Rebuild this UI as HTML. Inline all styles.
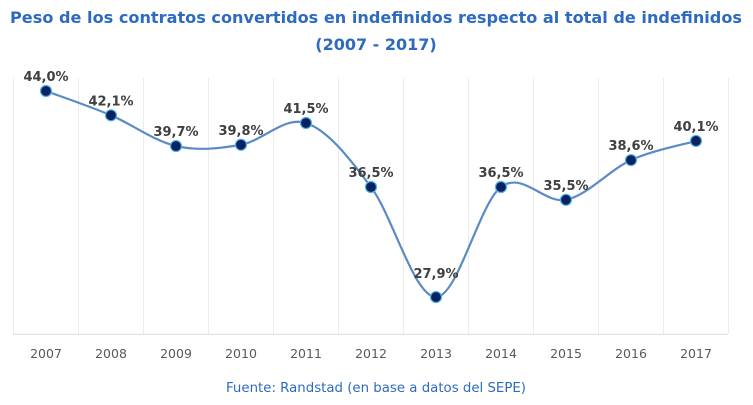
<!DOCTYPE html>
<html><head><meta charset="utf-8"><style>
body{margin:0;background:#fff;width:753px;height:401px;overflow:hidden;font-family:"DejaVu Sans","Liberation Sans",sans-serif}
</style></head><body>
<svg width="753" height="401" xmlns="http://www.w3.org/2000/svg" font-family="DejaVu Sans, Liberation Sans, sans-serif">
<text x="376" y="23" text-anchor="middle" font-size="16" font-weight="bold" fill="#2e6bc0" textLength="732" lengthAdjust="spacingAndGlyphs">Peso de los contratos convertidos en indefinidos respecto al total de indefinidos</text>
<text x="376" y="50" text-anchor="middle" font-size="16" font-weight="bold" fill="#2e6bc0">(2007 - 2017)</text>
<g id="grid"></g><g id="xlabels"></g>
<path id="line" fill="none" stroke="#5b8ac4" stroke-width="2.2"/>
<g id="pts"></g><g id="vals"></g>
<text x="376" y="392" text-anchor="middle" font-size="13" fill="#2e6bc0" textLength="300" lengthAdjust="spacingAndGlyphs">Fuente: Randstad (en base a datos del SEPE)</text>
</svg>
<script>
const years=["2007","2008","2009","2010","2011","2012","2013","2014","2015","2016","2017"];
const values=[44.0,42.1,39.7,39.8,41.5,36.5,27.9,36.5,35.5,38.6,40.1];
const labels=["44,0%","42,1%","39,7%","39,8%","41,5%","36,5%","27,9%","36,5%","35,5%","38,6%","40,1%"];
const NS="http://www.w3.org/2000/svg";
const x=i=>46+i*65, y=v=>91+(44-v)*12.8;
const yMin=25;
const grid=document.getElementById('grid');
for(let i=0;i<=years.length;i++){const l=document.createElementNS(NS,'line');
l.setAttribute('x1',13.5+i*65);l.setAttribute('x2',13.5+i*65);l.setAttribute('y1',78);l.setAttribute('y2',y(yMin));
l.setAttribute('stroke','#ececec');


grid.appendChild(l);}
const ax=document.createElementNS(NS,'line');ax.setAttribute('x1',13);ax.setAttribute('x2',728);ax.setAttribute('y1',y(yMin));ax.setAttribute('y2',y(yMin));ax.setAttribute('stroke','#d9d9d9');


grid.appendChild(ax);
const xl=document.getElementById('xlabels');
years.forEach((yr,i)=>{const t=document.createElementNS(NS,'text');t.setAttribute('x',x(i));t.setAttribute('y',358);t.setAttribute('text-anchor','middle');t.setAttribute('font-size','12.5');t.setAttribute('fill','#595959');t.textContent=yr;


xl.appendChild(t);});
const P=values.map((v,i)=>[x(i),y(v)]);
let d='M'+P[0][0]+','+P[0][1];
for(let i=0;i<P.length-1;i++){const p0=P[i-1]||P[i],p1=P[i],p2=P[i+1],p3=P[i+2]||P[i+1];
const c1=[p1[0]+(p2[0]-p0[0])/6,p1[1]+(p2[1]-p0[1])/6],c2=[p2[0]-(p3[0]-p1[0])/6,p2[1]-(p3[1]-p1[1])/6];
d+=` C${c1[0]},${c1[1]} ${c2[0]},${c2[1]} ${p2[0]},${p2[1]}`;}
document.getElementById('line').setAttribute('d',d);
const pts=document.getElementById('pts'),vals=document.getElementById('vals');
P.forEach((p,i)=>{const c=document.createElementNS(NS,'circle');c.setAttribute('cx',p[0]);c.setAttribute('cy',p[1]);c.setAttribute('r',5.5);c.setAttribute('fill','#0b2160');c.setAttribute('stroke','#4fb3e8');c.setAttribute('stroke-width','1.2');


pts.appendChild(c);
const t=document.createElementNS(NS,'text');t.setAttribute('x',p[0]);t.setAttribute('y',p[1]-(i===6?19:10));t.setAttribute('text-anchor','middle');t.setAttribute('font-size','13');t.setAttribute('font-weight','bold');t.setAttribute('fill','#404040');t.textContent=labels[i];


vals.appendChild(t);});
</script>
</body></html>
